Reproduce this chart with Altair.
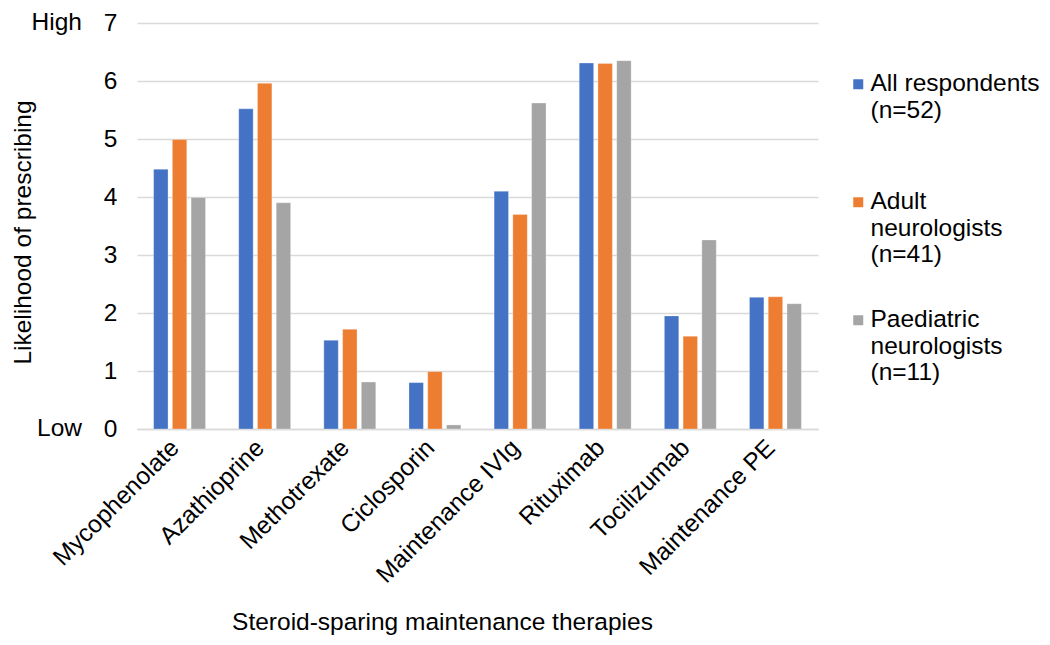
import altair as alt
import pandas as pd

therapies = ["Mycophenolate", "Azathioprine", "Methotrexate", "Ciclosporin",
             "Maintenance IVIg", "Rituximab", "Tocilizumab", "Maintenance PE"]
series = ["All respondents (n=52)", "Adult neurologists (n=41)", "Paediatric neurologists (n=11)"]
legend_lines = [["All respondents", "(n=52)", " "],
                ["Adult", "neurologists", "(n=41)"],
                ["Paediatric", "neurologists", "(n=11)"]]
all_resp = [4.48, 5.52, 1.53, 0.80, 4.10, 6.31, 1.95, 2.27]
adult = [4.99, 5.96, 1.72, 0.99, 3.70, 6.30, 1.60, 2.28]
paed = [3.99, 3.90, 0.81, 0.07, 5.62, 6.35, 3.26, 2.16]
colors = ["#4472C4", "#ED7D31", "#A5A5A5"]
y_ticks = [0, 1, 2, 3, 4, 5, 6, 7]
end_labels = ["Low", "High"]
end_values = [0, 7]

rows = []
for s, vals in zip(series, [all_resp, adult, paed]):
    for t, v in zip(therapies, vals):
        rows.append({"therapy": t, "series": s, "value": v})
df = pd.DataFrame(rows)
ann = pd.DataFrame({"label": end_labels, "value": end_values})

FONT = "Liberation Sans"
FS = 24.5

label_expr = " : ".join(
    [f"datum.label == '{s}' ? {lines!r}" for s, lines in zip(series, legend_lines)]
) + " : datum.label"

yscale = alt.Scale(domain=[0, 7], nice=False, zero=True)

bars = alt.Chart(df).mark_bar(stroke="white", strokeWidth=0.6, strokeOpacity=0.5).encode(
    x=alt.X("therapy:N", sort=therapies,
            scale=alt.Scale(paddingInner=0.39, paddingOuter=0.195),
            axis=alt.Axis(title="Steroid-sparing maintenance therapies",
                          labelAngle=-45, labelAlign="right", labelBaseline="middle",
                          labelPadding=15, labelOffset=-4, labelLimit=0, ticks=False,
                          domainColor="#d9d9d9", domainWidth=1.5,
                          labelFontSize=FS, labelColor="black",
                          titleFontSize=FS, titleFontWeight="normal", titleColor="black",
                          titleX=305, titleY=200, titleAlign="center",
                          titleBaseline="alphabetic")),
    xOffset=alt.XOffset("series:N", sort=series,
                        scale=alt.Scale(paddingInner=0.23, paddingOuter=0)),
    y=alt.Y("value:Q", scale=yscale,
            axis=alt.Axis(values=y_ticks, format="d", title="Likelihood of prescribing",
                          domain=False, ticks=False, labelPadding=20,
                          labelFontSize=FS, labelColor="black",
                          gridColor="#d9d9d9", gridWidth=1.5,
                          titleFontSize=FS, titleFontWeight="normal", titleColor="black",
                          titleAngle=270, titleX=-114, titleY=209,
                          titleAlign="center", titleBaseline="middle")),
    color=alt.Color("series:N", sort=series,
                    scale=alt.Scale(domain=series, range=colors),
                    legend=alt.Legend(title=None, orient="none", legendX=709, legendY=49,
                                      symbolType="square", symbolSize=100,
                                      symbolStrokeWidth=0, labelFontSize=FS,
                                      labelColor="black", labelLimit=0,
                                      labelExpr=label_expr, labelBaseline="middle",
                                      rowPadding=40, labelOffset=0, padding=0)),
)

ends = alt.Chart(ann).mark_text(align="right", baseline="middle", fontSize=FS,
                                font=FONT, color="black").encode(
    y=alt.Y("value:Q", scale=yscale),
    x=alt.value(-55),
    text="label:N",
)

chart = alt.layer(bars, ends).properties(
    width=681, height=406,
    autosize=alt.AutoSizeParams(type="none"),
    padding={"left": 129, "top": 15, "right": 224, "bottom": 208},
).configure(font=FONT).configure_view(stroke=None)

chart.save("out.html", embed_options={"renderer": "svg", "actions": False})
